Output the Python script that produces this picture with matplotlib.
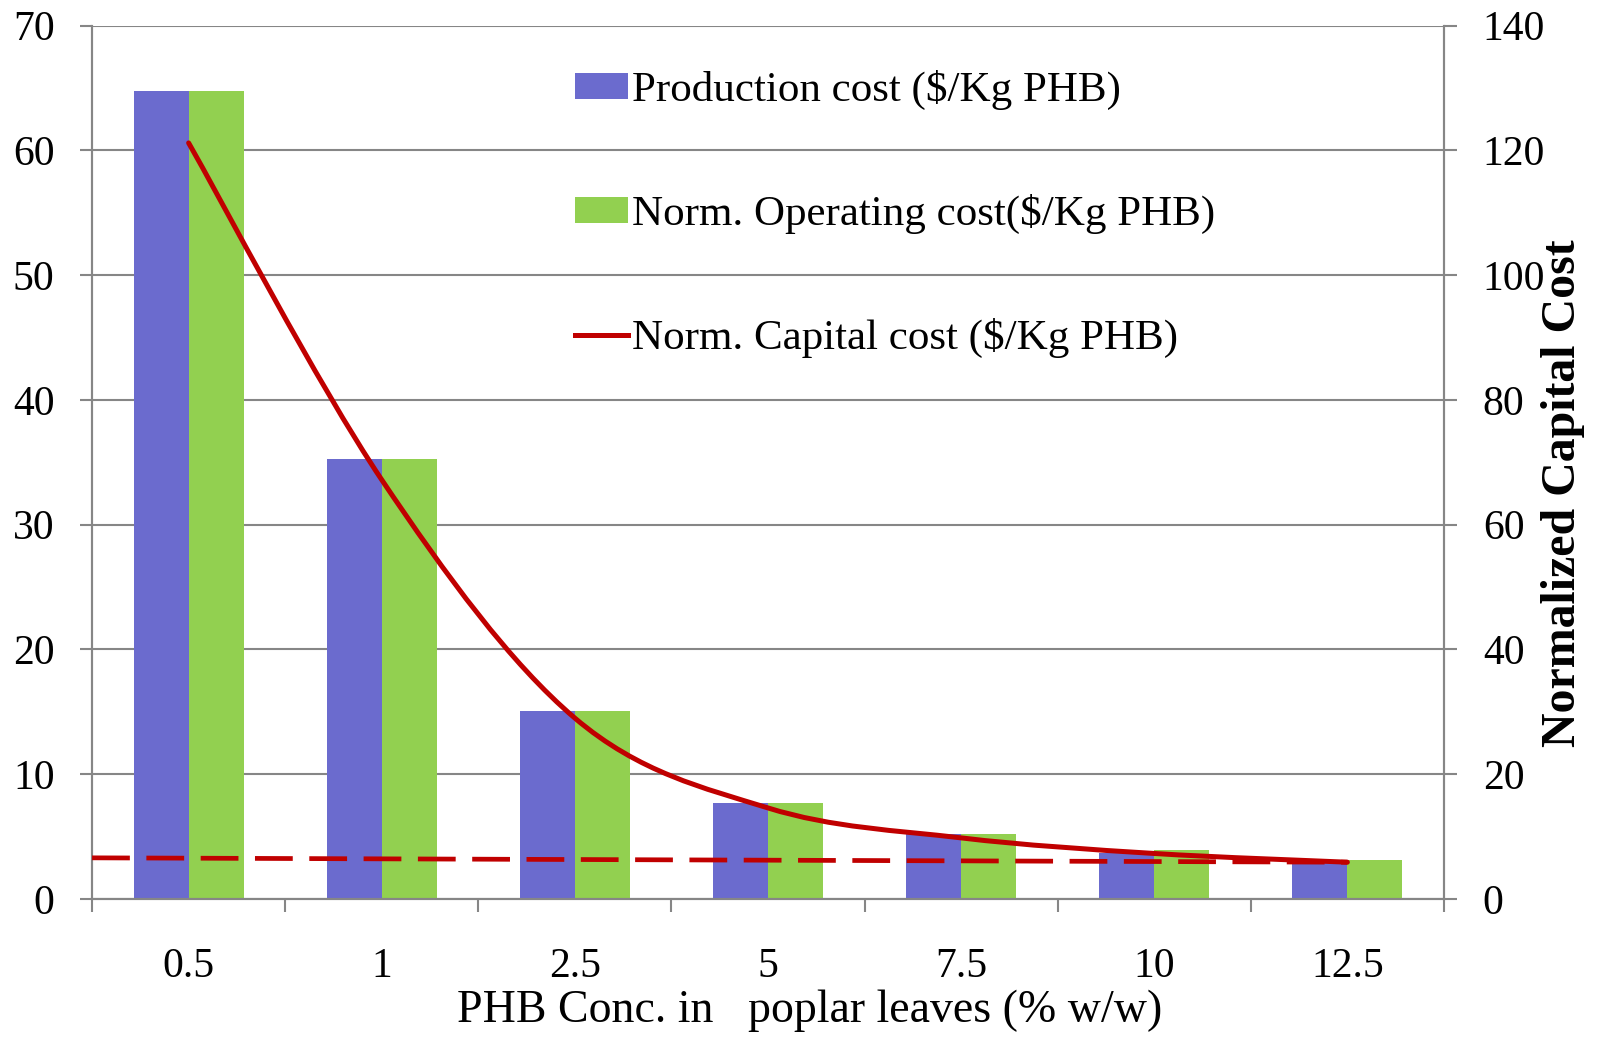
import numpy as np
import matplotlib
matplotlib.use("Agg")
import matplotlib.pyplot as plt
from matplotlib.path import Path
from matplotlib.patches import PathPatch, Patch
from matplotlib.lines import Line2D

plt.rcParams['font.family'] = ['Liberation Serif', 'DejaVu Serif']

# data
conc_labels = ['0.5', '1', '2.5', '5', '7.5', '10', '12.5']
production_cost = [64.8, 35.3, 15.05, 7.7, 5.2, 3.7, 3.0]
operating_cost = [64.8, 35.3, 15.05, 7.7, 5.2, 3.9, 3.1]
capital_cost = [121.2, 67.2, 29.0, 14.6, 9.8, 7.3, 5.9]
# dashed reference line on the right axis (start at left axis edge, end at last category)
trend_x = [-0.5, 6]
trend_y = [6.6, 5.9]

blue = '#6B6BCE'
green = '#92D050'
red = '#C00000'
grey = '#868686'
fs = 30

fig = plt.figure(figsize=(16.04, 10.38), dpi=100)
ax = fig.add_axes([0.0574, 0.1339, 0.8428, 0.8414])
ax2 = ax.twinx()

x = np.arange(len(conc_labels))
w = 0.285
ax.bar(x - w / 2, production_cost, width=w, color=blue, zorder=2)
ax.bar(x + w / 2, operating_cost, width=w, color=green, zorder=2)

ax.set_xlim(-0.5, 6.5)
ax.set_ylim(0, 70)
ax.set_yticks(np.arange(0, 71, 10))
ax2.set_ylim(0, 140)
ax2.set_yticks(np.arange(0, 141, 20))

ax.yaxis.grid(True, color=grey, linewidth=1.5, zorder=0)
ax.set_axisbelow(True)

# smoothed capital cost line (bezier through the points, like Excel's smooth line)
pts = np.column_stack([x, capital_cost]).astype(float)
verts = [pts[0]]
codes = [Path.MOVETO]
n = len(pts)
for i in range(n - 1):
    p0 = pts[i - 1] if i > 0 else pts[i]
    p1 = pts[i]
    p2 = pts[i + 1]
    p3 = pts[i + 2] if i + 2 < n else pts[i + 1]
    c1 = p1 + (p2 - p0) / 6
    c2 = p2 - (p3 - p1) / 6
    verts += [c1, c2, p2]
    codes += [Path.CURVE4] * 3
curve = PathPatch(Path(verts, codes), fill=False, edgecolor=red, linewidth=3.6,
                  capstyle='round', joinstyle='round', transform=ax2.transData, zorder=4)
ax2.add_patch(curve)

ax2.plot(trend_x, trend_y, color=red, linewidth=3.4, dashes=(8, 3.5), zorder=3)

for a in (ax, ax2):
    for s in a.spines.values():
        s.set_color(grey)
        s.set_linewidth(1.5)
    a.spines['top'].set_visible(False)

ax.set_xticks(x)
ax.set_xticklabels(conc_labels)
ax.set_xticks(np.arange(-0.5, 7, 1), minor=True)
ax.tick_params(axis='x', which='major', length=0, pad=35, labelsize=fs)
ax.tick_params(axis='x', which='minor', length=9, width=1.5, color=grey)
ax.tick_params(axis='y', length=9, width=1.5, color=grey, pad=18, labelsize=fs)
ax2.tick_params(axis='y', length=9, width=1.5, color=grey, pad=19, labelsize=fs)

ax.set_xlabel('PHB Conc. in   poplar leaves (% w/w)', fontsize=33)
ax.xaxis.set_label_coords(0.531, -0.104)
ax2.set_ylabel('Normalized Capital Cost', fontsize=34.5, fontweight='bold')
ax2.yaxis.set_label_coords(1.072, 0.465)

handles = [Patch(facecolor=blue), Patch(facecolor=green),
           Line2D([0], [0], color=red, linewidth=3.6)]
labels = ['Production cost (\\$/Kg PHB)', 'Norm. Operating cost(\\$/Kg PHB)',
          'Norm. Capital cost (\\$/Kg PHB)']
ax2.legend(handles, labels, loc='upper left', bbox_to_anchor=(0.357, 0.949),
           frameon=False, fontsize=31, borderaxespad=0, borderpad=0,
           handlelength=1.23, handleheight=0.53, handletextpad=0.1,
           labelspacing=1.95)

fig.savefig('out.png', dpi=100)
